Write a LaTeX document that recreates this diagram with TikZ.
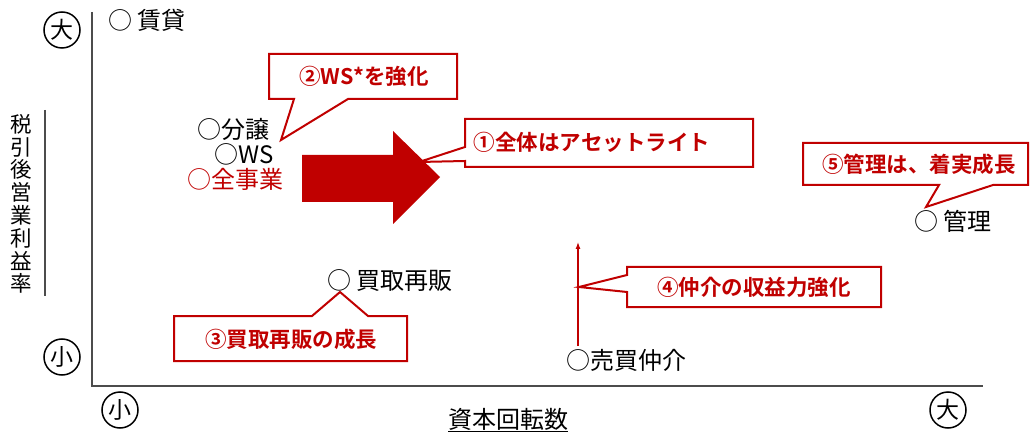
\documentclass[tikz,border=0pt]{standalone}
\usepackage{fontspec}
\usetikzlibrary{arrows.meta}
\setmainfont{Noto Sans CJK JP}
\newfontfamily\jpbold{Noto Sans CJK JP Bold}
\definecolor{cred}{HTML}{C00000}
\begin{document}
\begin{tikzpicture}[x=1pt,y=-1pt,
  lbl/.style={font=\fontsize{24}{26}\selectfont, inner sep=0pt, anchor=west},
  ctext/.style={font=\jpbold\fontsize{21.5}{23}\selectfont, text=cred, inner sep=0pt},
  cbox/.style={draw=cred, line width=2pt, fill=white, line join=miter},
  cmark/.style={circle, draw=black, line width=1.5pt, minimum size=36pt, inner sep=0pt, font=\fontsize{23}{24}\selectfont},
  axis/.style={draw=black!70, line width=1.3pt}]
\useasboundingbox (0,0) rectangle (1030,438);
% axes
\coordinate (yt) at (92,12);
\coordinate (o) at (92,386);
\coordinate (xr) at (983,386);
\draw[axis] (yt) -- (o) -- (xr);
\coordinate (yl1) at (45,110);
\coordinate (yl2) at (45,296);
\draw[axis] (yl1) -- (yl2);
% axis marks
\node[cmark] (ybig) at (62,30) {大};
\node[cmark] (ysmall) at (62,357) {小};
\node[cmark] (xsmall) at (120,410) {小};
\node[cmark] (xbig) at (948,410) {大};
\node[font=\fontsize{21.5}{22.8}\selectfont, align=center, inner sep=0pt] (ylab) at (21,204) {税\\引\\後\\営\\業\\利\\益\\率};
\node[font=\fontsize{24}{26}\selectfont, inner sep=0pt] (xlab) at (508,420) {\underline{資本回転数}};
% data labels
\node[lbl] (chintai) at (108,20) {○ 賃貸};
\node[lbl] (bunjo) at (197,129) {○分譲};
\node[lbl] (ws) at (214,154) {○WS};
\node[lbl, text=cred] (zen) at (187,179) {○全事業};
\node[lbl] (kaitori) at (327,281) {○ 買取再販};
\node[lbl] (baibai) at (566,360) {○売買仲介};
\node[lbl] (kanri) at (914,221) {○ 管理};
% big arrow
\fill[cred] (302,155) -- (393,155) -- (393,131) -- (440,177) -- (393,224) -- (393,202) -- (302,202) -- cycle;
% small vertical arrow
\coordinate (va0) at (578,346);
\coordinate (va1) at (578,242);
\draw[cred, line width=1.2pt, -{Latex[length=7pt,width=5pt]}] (va0) -- (va1);
% callout 2
\draw[cbox] (269,54) -- (457,54) -- (457,99) -- (348,99) -- (281,140) -- (294,99) -- (269,99) -- cycle;
\node[ctext] (c2) at (364,76) {②WS*を強化};
% callout 1
\draw[cbox] (465,119) -- (753,119) -- (753,167) -- (465,167) -- (465,161) -- (419,162) -- (465,147) -- cycle;
\node[ctext] (c1) at (592,142) {①全体はアセットライト};
% callout 5
\draw[cbox] (803,143) -- (1028,143) -- (1028,185) -- (993,185) -- (926,207) -- (939,185) -- (803,185) -- cycle;
\node[ctext] (c5) at (919,164) {⑤管理は、着実成長};
% callout 3
\draw[cbox] (174,316) -- (312,316) -- (340,292) -- (368,316) -- (407,316) -- (407,361) -- (174,361) -- cycle;
\node[ctext] (c3) at (291,339) {③買取再販の成長};
% callout 4
\draw[cbox] (627,267) -- (881,267) -- (881,307) -- (627,307) -- (627,292) -- (579,287) -- (627,275) -- cycle;
\node[ctext] (c4) at (754,287) {④仲介の収益力強化};
\end{tikzpicture}
\end{document}
